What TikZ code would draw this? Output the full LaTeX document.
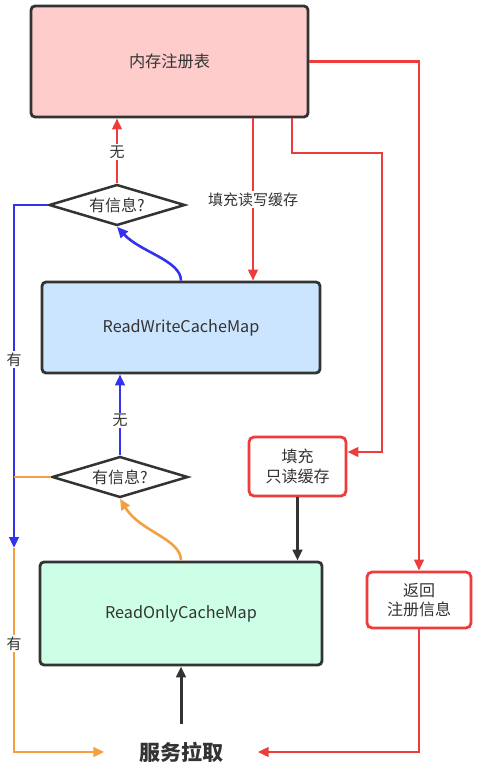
\documentclass[tikz,border=0pt]{standalone}
\usepackage{fontspec}
\setmainfont{Noto Sans CJK SC}
\usetikzlibrary{arrows.meta,shapes.geometric}
\definecolor{myred}{HTML}{EE3B3B}
\definecolor{myblue}{HTML}{3333EE}
\definecolor{myorange}{HTML}{F5A040}
\definecolor{dk}{HTML}{333333}
\definecolor{pinkfill}{HTML}{FFCCCC}
\definecolor{bluefill}{HTML}{CCE5FF}
\definecolor{greenfill}{HTML}{CCFFE6}
\begin{document}
\begin{tikzpicture}[x=1pt,y=-1pt,
  bigbox/.style={draw=dk,line width=2.8pt,rounded corners=4pt,text=dk,inner sep=0pt,font=\fontsize{16.2}{19}\selectfont},
  redbox/.style={draw=myred,fill=white,line width=2.8pt,rounded corners=5pt,text=dk,inner sep=0pt,align=center,font=\fontsize{16}{19.5}\selectfont},
  dia/.style={diamond,draw=dk,line width=2.5pt,fill=white,inner sep=0pt,aspect=3.3,minimum width=136pt,minimum height=41pt,text=dk,font=\fontsize{16}{18}\selectfont},
  lab/.style={fill=white,text=dk,inner sep=1.5pt,font=\fontsize{15}{17}\selectfont},
  tip/.style={-{Triangle[length=11pt,width=9.5pt]}},
  redline/.style={draw=myred,line width=2.6pt},
  blueline/.style={draw=myblue,line width=2.6pt},
  orangeline/.style={draw=myorange,line width=2.6pt},
  darkline/.style={draw=dk,line width=3pt},
]
\useasboundingbox (0,0) rectangle (481,779);
% nodes
\node[bigbox,fill=pinkfill,minimum width=277pt,minimum height=111pt] (mem) at (169.5,61.5) {内存注册表};
\node[bigbox,fill=bluefill,minimum width=278pt,minimum height=91pt] (rwc) at (181,327.5) {ReadWriteCacheMap};
\node[bigbox,fill=greenfill,minimum width=282pt,minimum height=103pt] (roc) at (181,613.5) {ReadOnlyCacheMap};
\node[dia] (d1) at (117,205) {有信息?};
\node[dia] (d2) at (120,477) {有信息?};
\node[redbox,minimum width=97pt,minimum height=59pt] (fro) at (297.5,466.5) {填充\\只读缓存};
\node[redbox,minimum width=104pt,minimum height=56pt] (ret) at (419,600) {返回\\注册信息};
\node[text=dk,inner sep=0pt,minimum width=153pt,minimum height=56pt,font=\fontsize{21}{24}\selectfont\bfseries] (pull) at (181,752) {服务拉取};
% coordinates
\coordinate (c1) at (382,153);
\coordinate (bl) at (14,205);
\coordinate (bj) at (14,548);
\coordinate (oj) at (14,477);
\coordinate (ob) at (14,752);
% red connectors
\draw[redline,tip] (mem.east) -| (ret.north);
\draw[redline,tip] (ret.south) |- (pull.east);
\draw[redline,tip] ([xshift=122.5pt]mem.south) |- (c1) |- ([yshift=14.5pt]fro.east);
\draw[redline,tip] ([xshift=83.5pt]mem.south) -- node[lab]{填充读写缓存} ([xshift=72pt]rwc.north);
\draw[redline,tip] (d1.north) -- node[lab,pos=0.48]{无} (d1.north |- mem.south);
% dark connectors
\draw[darkline,tip] (fro.south) -- (fro.south |- roc.north);
\draw[darkline,tip] (pull.north) -- (roc.south);
% blue connectors
\draw[blueline,tip] (d1.west) -- (bl) -- node[lab,pos=0.45]{有} (bj);
\draw[blueline,tip] (d2.north) -- node[lab,pos=0.43]{无} (d2.north |- rwc.south);
\draw[blueline,tip] (rwc.north) .. controls +(0,-20) and +(23,25) .. (d1.south);
% orange connectors
\draw[orangeline] (d2.west) -- (oj);
\draw[orangeline,tip] (bj) -- node[lab,pos=0.47]{有} (ob) -- (pull.west);
\draw[orangeline,tip] (roc.north) .. controls +(0,-22) and +(20,33) .. (d2.south);
\end{tikzpicture}
\end{document}
